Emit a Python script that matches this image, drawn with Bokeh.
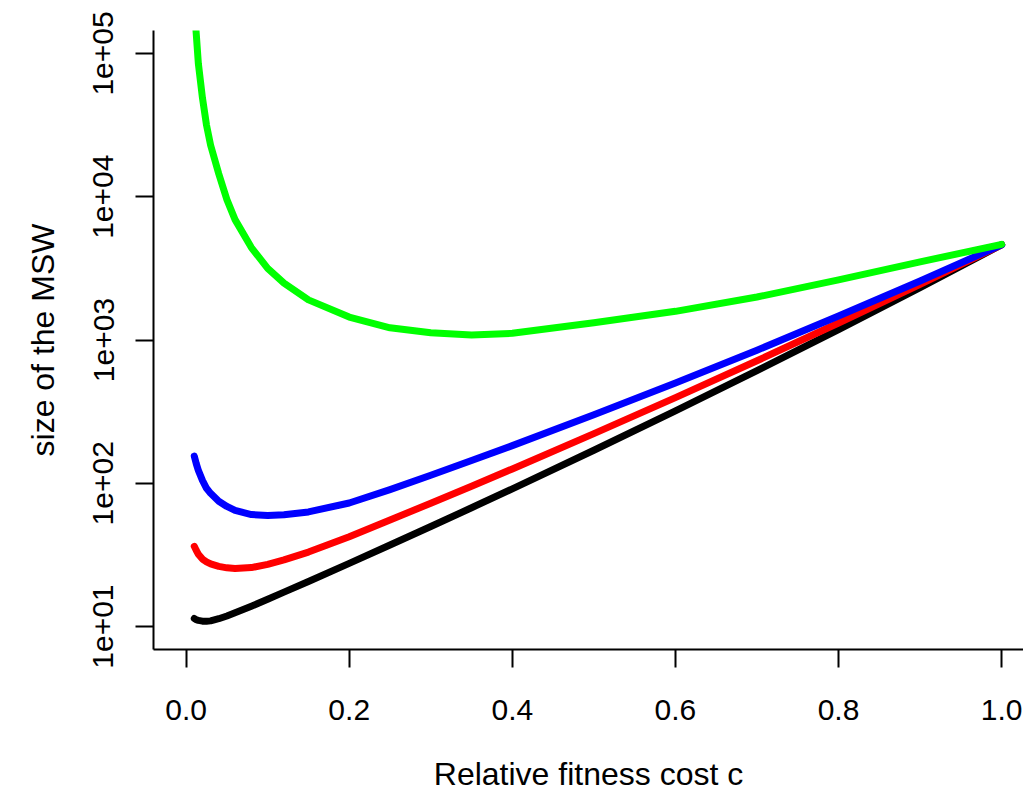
from bokeh.plotting import figure
from bokeh.models import Range1d, FixedTicker, NumeralTickFormatter, CustomJSTickFormatter, ColumnDataSource
from bokeh.embed import file_html
from bokeh.resources import INLINE

# relative fitness cost c
cost = [0.01, 0.0125, 0.015, 0.02, 0.025, 0.03, 0.04, 0.05, 0.06, 0.08, 0.10, 0.12,
        0.15, 0.2, 0.25, 0.3, 0.35, 0.4, 0.5, 0.6, 0.7, 0.8, 0.9, 1.0]

msw_black = [11.38, 11.17, 11.04, 10.91, 10.89, 10.96, 11.35, 11.86, 12.47, 13.87, 15.5, 17.4,
             20.65, 27.6, 37.1, 49.9, 67.5, 91.4, 170, 320, 611, 1183, 2317, 4620]
msw_red = [36.3, 33.9, 32.0, 29.6, 28.3, 27.4, 26.3, 25.7, 25.4, 25.8, 27.2, 29.2,
           33.1, 42.4, 55.4, 72.6, 95.5, 126, 222, 396, 716, 1315, 2443, 4620]
msw_blue = [155, 136.5, 123, 104.7, 92.3, 85.1, 75.0, 68.9, 64.6, 60.5, 59.7, 60.3,
            63.1, 72.8, 90.3, 113.8, 144.2, 183.2, 300.6, 501, 849, 1469, 2582, 4620]
msw_green = [213800, 134900, 85100, 49000, 31600, 22900, 14450, 9550, 6920, 4416, 3162, 2495,
             1905, 1445, 1216, 1122, 1084, 1114, 1318, 1585, 1995, 2630, 3508, 4650]

x_ticks = [0.0, 0.2, 0.4, 0.6, 0.8, 1.0]
y_ticks = [10, 100, 1000, 10000, 100000]

series = [("black", msw_black), ("red", msw_red), ("blue", msw_blue), ("#00ff00", msw_green)]

FONT = "Liberation Sans"

p = figure(width=1023, height=794, y_axis_type="log",
           x_range=Range1d(-0.04, 1.0268), y_range=Range1d(10 ** 0.84, 10 ** 5.16),
           output_backend="svg", toolbar_location=None,
           min_border_left=153, min_border_right=0, min_border_top=30, min_border_bottom=144,
           x_axis_label="Relative fitness cost c", y_axis_label="size of the MSW")

for color, vals in series:
    src = ColumnDataSource(dict(x=cost, y=vals))
    p.line("x", "y", source=src, line_color=color, line_width=7,
           line_cap="round", line_join="round")

p.grid.visible = False
p.outline_line_color = None
p.background_fill_color = "white"
p.border_fill_color = "white"

for ax in (p.xaxis[0], p.yaxis[0]):
    ax.axis_line_color = "black"
    ax.axis_line_width = 2
    ax.major_tick_line_color = "black"
    ax.major_tick_line_width = 2
    ax.major_tick_out = 18
    ax.major_tick_in = 0
    ax.minor_tick_line_color = None
    ax.major_label_text_font = FONT
    ax.major_label_text_font_size = "30px"
    ax.major_label_text_color = "black"
    ax.axis_label_text_font = FONT
    ax.axis_label_text_font_size = "32px"
    ax.axis_label_text_font_style = "normal"
    ax.axis_label_text_color = "black"

p.xaxis[0].ticker = FixedTicker(ticks=x_ticks)
p.xaxis[0].formatter = NumeralTickFormatter(format="0.0")
p.xaxis[0].major_label_standoff = 32
p.xaxis[0].axis_label_standoff = 33

p.yaxis[0].ticker = FixedTicker(ticks=y_ticks)
p.yaxis[0].formatter = CustomJSTickFormatter(code="""
var s = tick.toExponential();
return s.replace(/e([+-])(\\d)$/, 'e$10$2');
""")
p.yaxis[0].major_label_orientation = "vertical"
p.yaxis[0].major_label_standoff = 22
p.yaxis[0].axis_label_standoff = 30

open("out.html", "w").write(file_html(p, INLINE))
